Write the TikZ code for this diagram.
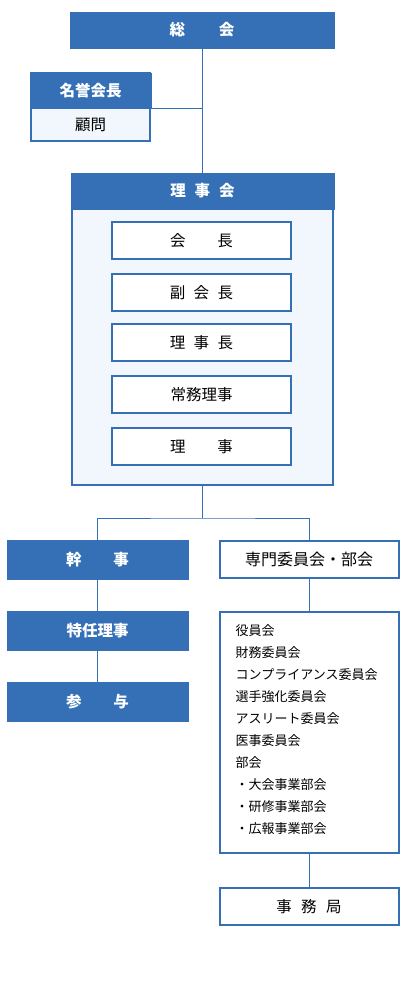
\documentclass[tikz,border=0pt]{standalone}
\usepackage{fontspec}
\newfontfamily\jp{Noto Sans CJK JP}
\definecolor{mblue}{HTML}{3570B7}
\definecolor{lightbg}{HTML}{F2F6FD}
\tikzset{
  base/.style={rectangle, inner sep=0pt, anchor=center},
  fillbox/.style={base, fill=mblue, draw=mblue, line width=0.5pt, text=white, font=\jp\bfseries\fontsize{15.5}{18}\selectfont},
  linebox/.style={base, fill=white, draw=mblue, line width=2pt, text=black, font=\jp\fontsize{15.5}{18}\selectfont},
  conn/.style={draw=mblue, line width=1pt},
  listtext/.style={inner sep=0pt, anchor=west, text=black, font=\jp\fontsize{13}{16}\selectfont}
}
\begin{document}
\begin{tikzpicture}[x=1pt,y=-1pt]
\fill[white] (0,0) rectangle (406,1000);
\useasboundingbox (0,0) rectangle (406,1000);

% 総会
\node[fillbox, minimum width=264pt, minimum height=36pt] (soukai) at (202,30) {総\hspace{34pt}会};

% 名誉会長 / 顧問
\node[base, fill=lightbg, draw=mblue, line width=2pt, minimum width=119pt, minimum height=68pt] (meiyobox) at (90.5,107.5) {};
\node[fillbox, minimum width=121pt, minimum height=35pt] (meiyo) at (90.5,90.5) {名誉会長};
\node[base, text=black, font=\jp\fontsize{15.5}{18}\selectfont] (komon) at (90.5,125) {顧問};

% 理事会
\node[base, fill=lightbg, draw=mblue, line width=2pt, minimum width=261pt, minimum height=311pt] (rijikai) at (202.5,329.5) {};
\node[fillbox, minimum width=263pt, minimum height=36pt] (rijihead) at (202.5,191) {理\hspace{9pt}事\hspace{9pt}会};

\node[linebox, minimum width=179pt, minimum height=37pt] (kaicho) at (201.5,240.5) {会\hspace{32pt}長};
\node[linebox, minimum width=179pt, minimum height=37pt] (fukukaicho) at (201.5,292.5) {副\hspace{8.5pt}会\hspace{8.5pt}長};
\node[linebox, minimum width=179pt, minimum height=37pt] (rijicho) at (201.5,342.5) {理\hspace{8.5pt}事\hspace{8.5pt}長};
\node[linebox, minimum width=179pt, minimum height=37pt] (joumu) at (201.5,394.5) {常務理事};
\node[linebox, minimum width=179pt, minimum height=37pt] (riji) at (201.5,446.5) {理\hspace{32pt}事};

% 左列
\node[fillbox, minimum width=181pt, minimum height=39pt] (kanji) at (97.5,559.5) {幹\hspace{32pt}事};
\node[fillbox, minimum width=181pt, minimum height=39pt] (tokunin) at (97.5,630.5) {特任理事};
\node[fillbox, minimum width=181pt, minimum height=39pt] (sanyo) at (97.5,701.5) {参\hspace{32pt}与};

% 右列
\node[linebox, minimum width=179pt, minimum height=37pt, font=\jp\fontsize{16}{18}\selectfont] (senmon) at (309,559.5) {専門委員会・部会};
\node[linebox, minimum width=179pt, minimum height=241pt] (list) at (309,732.5) {};
\node[linebox, minimum width=179pt, minimum height=37pt] (jimukyoku) at (309,906.5) {事\hspace{9.5pt}務\hspace{9.5pt}局};

\foreach \t [count=\i] in {役員会,財務委員会,コンプライアンス委員会,選手強化委員会,アスリート委員会,医事委員会,部会,・大会事業部会,・研修事業部会,・広報事業部会}
  \node[listtext] (l\i) at (235.5,609+22*\i) {\t};

% 接続線
\draw[conn] (soukai.south) -- (soukai.south |- rijihead.north);
\draw[conn] (meiyo.south east) -- (meiyo.south east -| soukai.south);
\coordinate (split) at (202.5,518);
\draw[conn] (rijikai.south) -- (split);
\draw[conn] (kanji.north) |- (split) -| (senmon.north);
\draw[conn] (kanji.south) -- (tokunin.north);
\draw[conn] (tokunin.south) -- (sanyo.north);
\draw[conn] (senmon.south) -- (list.north);
\draw[conn] (list.south) -- (jimukyoku.north);
\end{tikzpicture}
\end{document}
